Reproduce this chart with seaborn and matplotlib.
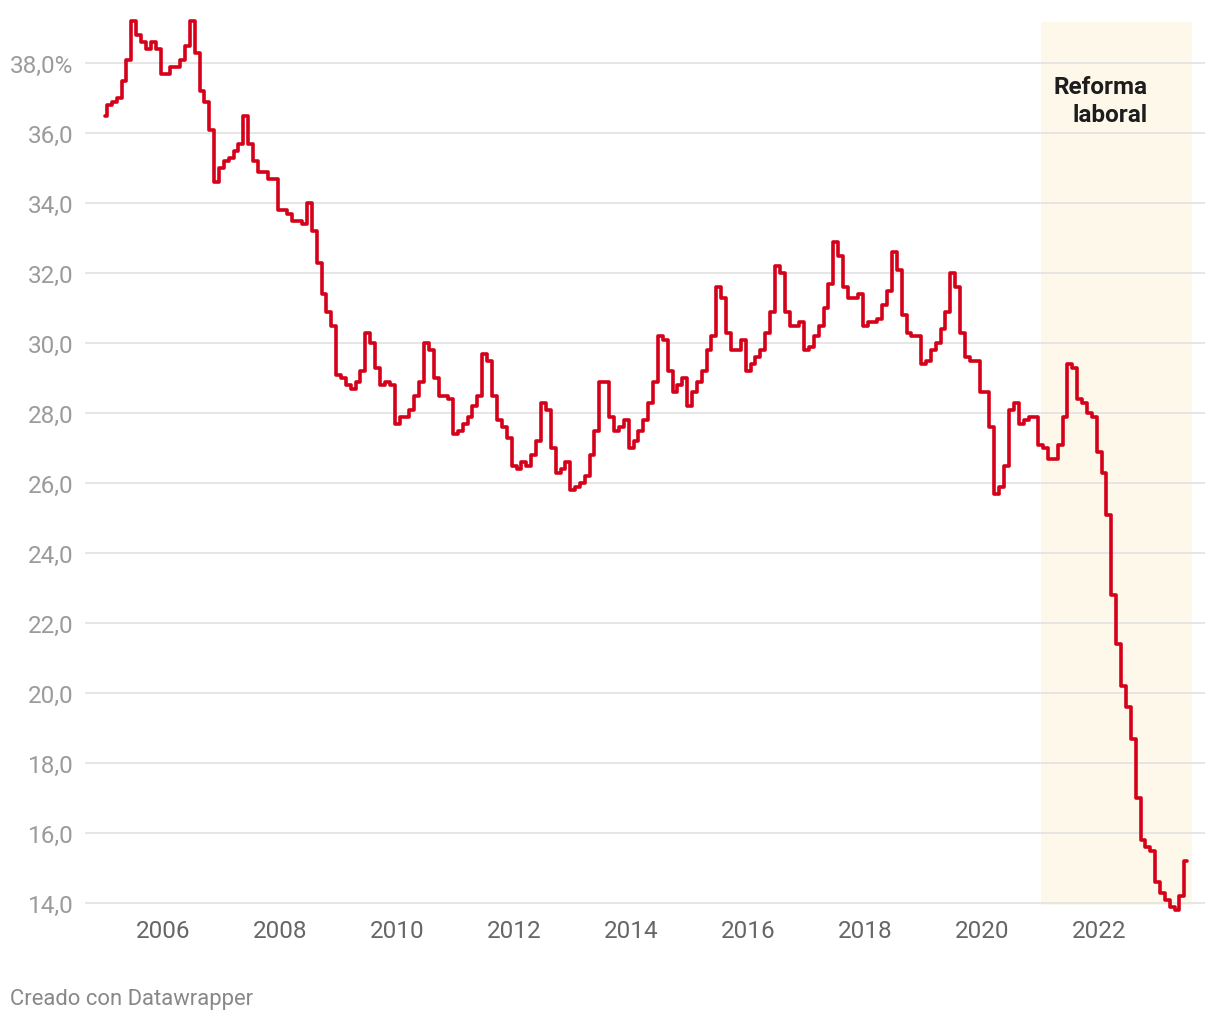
import pandas as pd
import matplotlib as mpl
mpl.use('Agg')
import matplotlib.pyplot as plt
import seaborn as sns

# monthly series, first value = January 2005
START_MONTH = '2005-01-01'
tasa = [
    36.5, 36.8, 36.9, 37.0, 37.5, 38.1, 39.2, 38.8, 38.6, 38.4, 38.6, 38.4,  # 2005
    37.7, 37.7, 37.9, 37.9, 38.1, 38.5, 39.2, 38.3, 37.2, 36.9, 36.1, 34.6,  # 2006
    35.0, 35.2, 35.3, 35.5, 35.7, 36.5, 35.7, 35.2, 34.9, 34.9, 34.7, 34.7,  # 2007
    33.8, 33.8, 33.7, 33.5, 33.5, 33.4, 34.0, 33.2, 32.3, 31.4, 30.9, 30.5,  # 2008
    29.1, 29.0, 28.8, 28.7, 28.9, 29.2, 30.3, 30.0, 29.3, 28.8, 28.9, 28.8,  # 2009
    27.7, 27.9, 27.9, 28.1, 28.5, 28.9, 30.0, 29.8, 29.0, 28.5, 28.5, 28.4,  # 2010
    27.4, 27.5, 27.7, 27.9, 28.2, 28.5, 29.7, 29.5, 28.5, 27.8, 27.6, 27.3,  # 2011
    26.5, 26.4, 26.6, 26.5, 26.8, 27.2, 28.3, 28.1, 27.0, 26.3, 26.4, 26.6,  # 2012
    25.8, 25.9, 26.0, 26.2, 26.8, 27.5, 28.9, 28.9, 27.9, 27.5, 27.6, 27.8,  # 2013
    27.0, 27.2, 27.5, 27.8, 28.3, 28.9, 30.2, 30.1, 29.2, 28.6, 28.8, 29.0,  # 2014
    28.2, 28.6, 28.9, 29.2, 29.8, 30.2, 31.6, 31.3, 30.3, 29.8, 29.8, 30.1,  # 2015
    29.2, 29.4, 29.6, 29.8, 30.3, 30.9, 32.2, 32.0, 30.9, 30.5, 30.5, 30.6,  # 2016
    29.8, 29.9, 30.2, 30.5, 31.0, 31.7, 32.9, 32.5, 31.6, 31.3, 31.3, 31.4,  # 2017
    30.5, 30.6, 30.6, 30.7, 31.1, 31.5, 32.6, 32.1, 30.8, 30.3, 30.2, 30.2,  # 2018
    29.4, 29.5, 29.8, 30.0, 30.4, 30.9, 32.0, 31.6, 30.3, 29.6, 29.5, 29.5,  # 2019
    28.6, 28.6, 27.6, 25.7, 25.9, 26.5, 28.1, 28.3, 27.7, 27.8, 27.9, 27.9,  # 2020
    27.1, 27.0, 26.7, 26.7, 27.1, 27.9, 29.4, 29.3, 28.4, 28.3, 28.0, 27.9,  # 2021
    26.9, 26.3, 25.1, 22.8, 21.4, 20.2, 19.6, 18.7, 17.0, 15.8, 15.6, 15.5,  # 2022
    14.6, 14.3, 14.1, 13.9, 13.8, 14.2, 15.2,                                # 2023
]

year_ticks = list(range(2006, 2023, 2))
y_ticks = [14, 16, 18, 20, 22, 24, 26, 28, 30, 32, 34, 36, 38]
y_labels = ['14,0', '16,0', '18,0', '20,0', '22,0', '24,0', '26,0',
            '28,0', '30,0', '32,0', '34,0', '36,0', '38,0%']

band_start = '2021-01-01'
band_end = '2023-08-01'
band_label = 'Reforma\nlaboral'
footer = 'Creado con Datawrapper'

RED = '#d50019'

df = pd.DataFrame({
    'fecha': pd.date_range(START_MONTH, periods=len(tasa), freq='MS'),
    'tasa': tasa,
})

sns.set_theme(style='white')
plt.rcParams['font.family'] = ['Roboto', 'DejaVu Sans']

W, H = 1220, 1020
fig = plt.figure(figsize=(W / 100, H / 100), dpi=100)
ax = fig.add_axes([85 / W, (H - 906) / H, (1205 - 85) / W, (906 - 23) / H])

# highlighted period
ax.axvspan(pd.Timestamp(band_start), pd.Timestamp(band_end), color='#fef8eb', zorder=0, lw=0)

sns.lineplot(data=df, x='fecha', y='tasa', ax=ax, estimator=None,
             drawstyle='steps-mid', color=RED, linewidth=2.6, zorder=3, clip_on=False)

ax.set_xlim(pd.Timestamp('2004-08-31'), pd.Timestamp('2023-10-23'))
ax.set_ylim(14 - 2 / 35, 38 + 41 / 35)

ax.set_yticks(y_ticks)
ax.set_yticklabels(y_labels)
ax.set_xticks([pd.Timestamp(f'{y}-01-01') for y in year_ticks])
ax.set_xticklabels([str(y) for y in year_ticks])

ax.tick_params(axis='y', length=0, pad=8.5, labelsize=17.5, labelcolor='#9b9b9b')
ax.tick_params(axis='x', length=0, pad=10, labelsize=17.5, labelcolor='#666666')
ax.grid(axis='y', color='#e2e2e2', linewidth=1.2, zorder=1)
ax.grid(axis='x', visible=False)
ax.set_axisbelow(True)
for s in ax.spines.values():
    s.set_visible(False)
ax.set_xlabel('')
ax.set_ylabel('')

ax.text(pd.Timestamp('2022-10-27'), 36.92, band_label, ha='right', va='center',
        multialignment='right', fontsize=17.5, fontweight='bold', color='#1d1d1d',
        linespacing=1.29, zorder=4)

fig.text(10 / W, 1 - 1000 / H, footer, ha='left', va='center', fontsize=15.8, color='#888888')

fig.savefig('out.png', dpi=100)
